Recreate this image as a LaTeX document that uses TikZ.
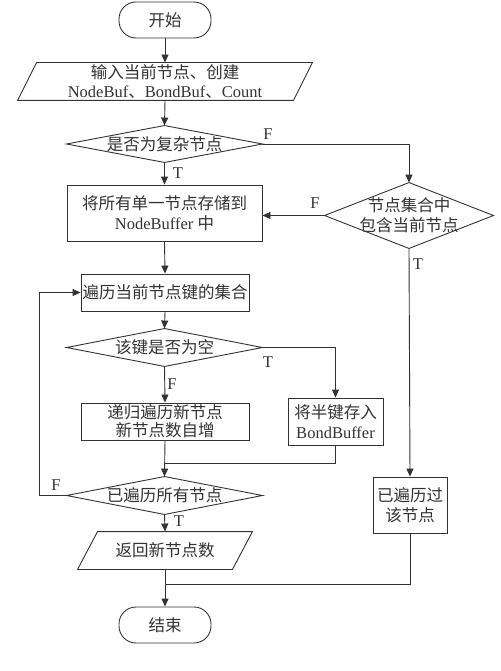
\documentclass[tikz,border=0pt]{standalone}
\usepackage{fontspec}
\setmainfont{Liberation Serif}
\newfontfamily\cjkfont{Noto Sans CJK SC}
\newcommand\zh[1]{{\cjkfont #1}}
\usetikzlibrary{arrows.meta}
\definecolor{ink}{HTML}{333333}
\begin{document}
\begin{tikzpicture}[x=1pt,y=-1pt,
  font=\fontsize{16.5}{19.5}\selectfont,
  line width=0.9pt, color=ink,
  >={Triangle[length=8pt,width=7pt]},
  plain/.style={draw=none, rectangle, inner sep=0pt, align=center},
  box/.style={draw=ink, rectangle, inner sep=0pt, align=center},
  pill/.style={draw=ink, rectangle, rounded corners=17pt, inner sep=0pt, minimum width=92pt, minimum height=36pt},
  lbl/.style={inner sep=0pt, font=\fontsize{16.5}{19}\selectfont}]
\fill[white] (0,0) rectangle (500,671);
\useasboundingbox (0,0) rectangle (500,671);

% nodes
\node[pill] (start) at (165,20) {\zh{开始}};
\node[plain, minimum width=275pt, minimum height=37pt] (inp) at (165,81.5)
  {\zh{输入当前节点、创建}\\NodeBuf\zh{、}BondBuf\zh{、}Count};
\draw ([xshift=9.5pt]inp.north west) -- ([xshift=9.5pt]inp.north east)
  -- ([xshift=-9.5pt]inp.south east) -- ([xshift=-9.5pt]inp.south west) -- cycle;

\node[plain, minimum width=195pt, minimum height=36pt] (d1) at (164.5,144) {\zh{是否为复杂节点}};
\draw (d1.north) -- (d1.east) -- (d1.south) -- (d1.west) -- cycle;

\node[box, minimum width=195pt, minimum height=56pt] (b1) at (164.5,213)
  {\zh{将所有单一节点存储到}\\NodeBuffer \zh{中}};

\node[plain, minimum width=168pt, minimum height=65pt, font=\fontsize{16.5}{20}\selectfont] (d2) at (409,215.5)
  {\zh{节点集合中}\\\zh{包含当前节点}};
\draw (d2.north) -- (d2.east) -- (d2.south) -- (d2.west) -- cycle;

\node[box, minimum width=168pt, minimum height=37pt] (b2) at (165,292.5) {\zh{遍历当前节点键的集合}};

\node[plain, minimum width=195pt, minimum height=37pt] (d3) at (164.5,347.5) {\zh{该键是否为空}};
\draw (d3.north) -- (d3.east) -- (d3.south) -- (d3.west) -- cycle;

\node[box, minimum width=168pt, minimum height=37pt, font=\fontsize{16.5}{18}\selectfont] (b3) at (165,421.5)
  {\zh{递归遍历新节点}\\\zh{新节点数自增}};
\node[box, minimum width=95pt, minimum height=47pt] (bb) at (335.5,421.5)
  {\zh{将半键存入}\\BondBuffer};

\node[plain, minimum width=195pt, minimum height=37pt] (d4) at (164.5,495.5) {\zh{已遍历所有节点}};
\draw (d4.north) -- (d4.east) -- (d4.south) -- (d4.west) -- cycle;

\node[box, minimum width=74pt, minimum height=56pt] (b4) at (410,505)
  {\zh{已遍历过}\\\zh{该节点}};

\node[plain, minimum width=154pt, minimum height=37pt] (out) at (165,550.5) {\zh{返回新节点数}};
\draw ([xshift=10pt]out.north west) -- ([xshift=10pt]out.north east)
  -- ([xshift=-10pt]out.south east) -- ([xshift=-10pt]out.south west) -- cycle;

\node[pill] (stop) at (165,625) {\zh{结束}};

\coordinate (m1) at (165,463);
\coordinate (m2) at (165,584);

% connectors
\draw[->] (start.south) -- (inp.north);
\draw[->] (inp.south) -- (d1.north);
\draw[->] (d1.east) -| (d2.north);
\draw[->] (d1.south) -- (b1.north);
\draw[->] (d2.west) -- (d2.west -| b1.east);
\draw[->] (d2.south) -- (b4.north);
\draw[->] (b1.south) -- (b2.north);
\draw[->] (b2.south) -- (d3.north);
\draw[->] (d3.east) -| (bb.north);
\draw[->] (d3.south) -- (b3.north);
\draw[->] (b3.south) -- (d4.north);
\draw (bb.south) |- (m1);
\draw[->] (d4.west) -- ++(-27,0) |- (b2.west);
\draw[->] (d4.south) -- (out.north);
\draw[->] (out.south) -- (stop.north);
\draw (b4.south) |- (m2);

% labels
\node[lbl] (l1) at (268,134) {F};
\node[lbl] (l2) at (178,173.5) {T};
\node[lbl] (l3) at (315,203) {F};
\node[lbl] (l4) at (418,264) {T};
\node[lbl] (l5) at (268,362) {T};
\node[lbl] (l6) at (172,384) {F};
\node[lbl] (l7) at (56,485) {F};
\node[lbl] (l8) at (179,521) {T};
\end{tikzpicture}
\end{document}
